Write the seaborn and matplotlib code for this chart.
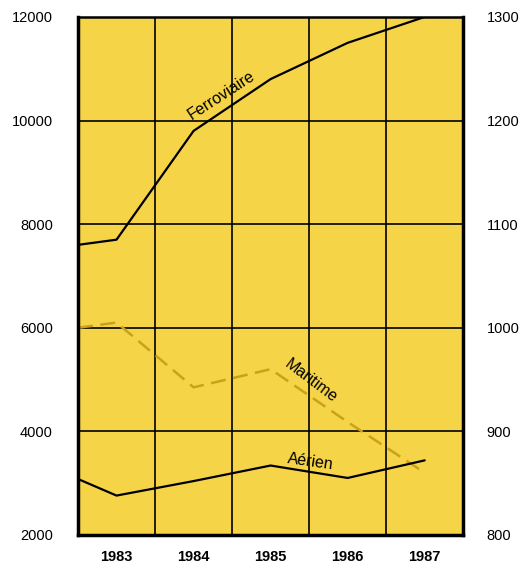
import matplotlib
matplotlib.use("Agg")
import matplotlib.pyplot as plt
import seaborn as sns
import pandas as pd

# positions in years; the lines start at the left edge of the grid (1982.5)
years = [1982.5, 1983, 1984, 1985, 1986, 1987]
ferroviaire = [7600, 7700, 9800, 10800, 11500, 12000]
maritime = [6000, 6100, 4850, 5200, 4180, 3200]
aerien = [854, 838, 852, 867, 855, 872]  # right axis
year_labels = ["1983", "1984", "1985", "1986", "1987"]
left_ticks = [2000, 4000, 6000, 8000, 10000, 12000]
right_ticks = [800, 900, 1000, 1100, 1200, 1300]

sns.set_style("white")
plt.rcParams['font.family'] = ['Liberation Sans', 'DejaVu Sans']
plt.rcParams['text.color'] = 'black'
plt.rcParams['xtick.color'] = 'black'
plt.rcParams['ytick.color'] = 'black'

fig = plt.figure(figsize=(5.27, 5.84), dpi=100)
ax = fig.add_axes([0.148, 0.084, 0.731, 0.887])
ax.set_facecolor("#f6d447")

df = pd.DataFrame({"year": years, "Ferroviaire": ferroviaire,
                   "Maritime": maritime, "Aerien": aerien})

sns.lineplot(data=df, x="year", y="Ferroviaire", ax=ax, color="black", lw=1.6)
sns.lineplot(data=df, x="year", y="Maritime", ax=ax, color="#c9a21a", lw=1.8,
             linestyle=(0, (6, 3)))

ax.set_xlim(1982.5, 1987.5)
ax.set_ylim(2000, 12000)
ax.set_xticks([1983, 1984, 1985, 1986, 1987])
ax.set_xticklabels(year_labels, fontsize=10.5, fontweight="bold")
ax.set_yticks(left_ticks)
ax.set_yticklabels([str(t) for t in left_ticks], fontsize=10.5)
ax.set_xticks([1983.5, 1984.5, 1985.5, 1986.5], minor=True)
ax.grid(False)
ax.grid(True, which="minor", axis="x", color="black", lw=1.2)
ax.grid(True, which="major", axis="y", color="black", lw=1.2)
ax.tick_params(axis="both", which="both", length=0)
ax.tick_params(axis="x", pad=11)
ax.tick_params(axis="y", pad=18)
ax.set_xlabel("")
ax.set_ylabel("")
for s in ["left", "bottom", "right"]:
    ax.spines[s].set_linewidth(2.5)
    ax.spines[s].set_color("black")
ax.spines["top"].set_linewidth(1.8)
ax.spines["top"].set_color("black")

ax2 = ax.twinx()
sns.lineplot(data=df, x="year", y="Aerien", ax=ax2, color="black", lw=1.6)
ax2.set_ylim(800, 1300)
ax2.set_yticks(right_ticks)
ax2.set_yticklabels([str(t) for t in right_ticks], fontsize=10.5)
ax2.tick_params(axis="y", length=0, pad=17)
ax2.set_ylabel("")
for s in ax2.spines.values():
    s.set_visible(False)

ax.text(1984.36, 10480, "Ferroviaire", rotation=33, fontsize=11.5,
        ha="center", va="center")
ax.text(1985.52, 4970, "Maritime", rotation=-37, fontsize=11.5,
        ha="center", va="center")
ax2.text(1985.52, 871, "Aérien", rotation=-8, fontsize=11.5,
         ha="center", va="center")

fig.savefig("out.png", dpi=100)
